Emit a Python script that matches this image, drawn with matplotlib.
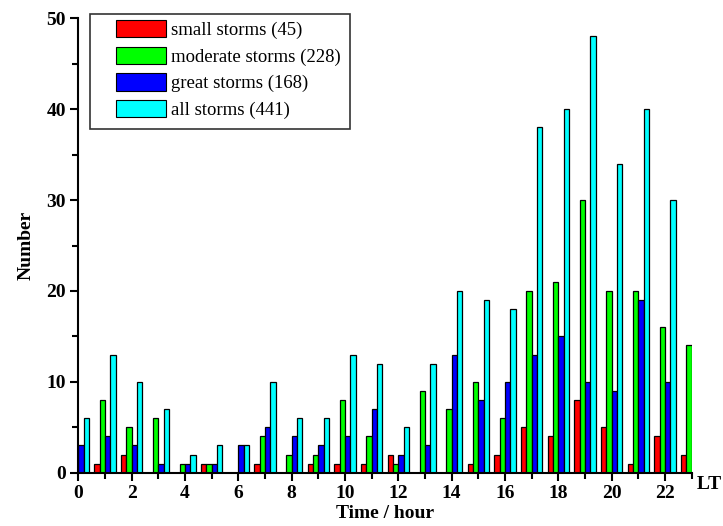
import numpy as np
import matplotlib.pyplot as plt
from matplotlib.patches import Rectangle
from matplotlib.ticker import MultipleLocator

plt.rcParams['font.family'] = ['Liberation Serif', 'DejaVu Serif']

# Local time hour of storm onset
hours = np.arange(24)

# Storm counts per hour (hour 0 small/moderate and hour 23 great/all are
# outside the plotted range; estimated from the legend totals)
small = [3, 1, 2, 0, 0, 1, 0, 1, 0, 1, 1, 1, 2, 0, 0, 1, 2, 5, 4, 8, 5, 1, 4, 2]
moderate = [13, 8, 5, 6, 1, 1, 0, 4, 2, 2, 8, 4, 1, 9, 7, 10, 6, 20, 21, 30, 20, 20, 16, 14]
great = [3, 4, 3, 1, 1, 1, 3, 5, 4, 3, 4, 7, 2, 3, 13, 8, 10, 13, 15, 10, 9, 19, 10, 17]
all_storms = [6, 13, 10, 7, 2, 3, 3, 10, 6, 6, 13, 12, 5, 12, 20, 19, 18, 38, 40, 48, 34, 40, 30, 46]

labels = ["small storms (45)", "moderate storms (228)",
          "great storms (168)", "all storms (441)"]
colors = ["#ff0000", "#00ff00", "#0000ff", "#00ffff"]

xmin, xmax = 0, 23

fig = plt.figure(figsize=(7.23, 5.26), dpi=100)
ax = fig.add_axes([0.1083, 0.1013, 0.9567 - 0.1083, 0.9652 - 0.1013])

width = 0.2
offsets = [-0.3, -0.1, 0.1, 0.3]
series = [small, moderate, great, all_storms]
for vals, off, col, lab in zip(series, offsets, colors, labels):
    x = hours + off
    vals = np.asarray(vals)
    # only bars that fall inside the plotted hour range
    keep = (x - width / 2 >= xmin - 1e-9) & (x + width / 2 <= xmax + 1e-9)
    ax.bar(x[keep], vals[keep], width=width, color=col, edgecolor="black",
           linewidth=0.9, label=lab)

ax.set_xlim(xmin, xmax)
ax.set_ylim(0, 50)
ax.xaxis.set_major_locator(MultipleLocator(2))
ax.xaxis.set_minor_locator(MultipleLocator(1))
ax.yaxis.set_major_locator(MultipleLocator(10))
ax.yaxis.set_minor_locator(MultipleLocator(5))

for side in ["top", "right"]:
    ax.spines[side].set_visible(False)
for side in ["left", "bottom"]:
    ax.spines[side].set_linewidth(1.5)

ax.tick_params(which="major", direction="out", length=6, width=1.5,
               labelsize=14, pad=3)
ax.tick_params(which="minor", direction="out", length=4, width=1.5)
for t in ax.get_xticklabels() + ax.get_yticklabels():
    t.set_fontweight("bold")

ax.set_xlabel("Time / hour", fontsize=14, fontweight="bold", labelpad=2)
ax.set_ylabel("Number", fontsize=14, fontweight="bold", labelpad=8)
ax.text(1.0, -0.025, " LT", transform=ax.transAxes, fontsize=14,
        fontweight="bold", ha="left", va="center")

leg = ax.legend(loc="upper left", bbox_to_anchor=(116 / 723, 1 - 20 / 526),
                bbox_transform=fig.transFigure, frameon=False, fontsize=13.5,
                handlelength=2.65, handleheight=1.05, handletextpad=0.3,
                labelspacing=0.4, borderpad=0, borderaxespad=0)
for h in leg.legend_handles:
    h.set_edgecolor("black")
    h.set_linewidth(0.8)

fig.patches.append(Rectangle((90 / 723, 1 - 129 / 526), 260 / 723, 115 / 526,
                             transform=fig.transFigure, fill=False,
                             edgecolor="#333333", linewidth=1.2))

fig.savefig("out.png", dpi=100)
